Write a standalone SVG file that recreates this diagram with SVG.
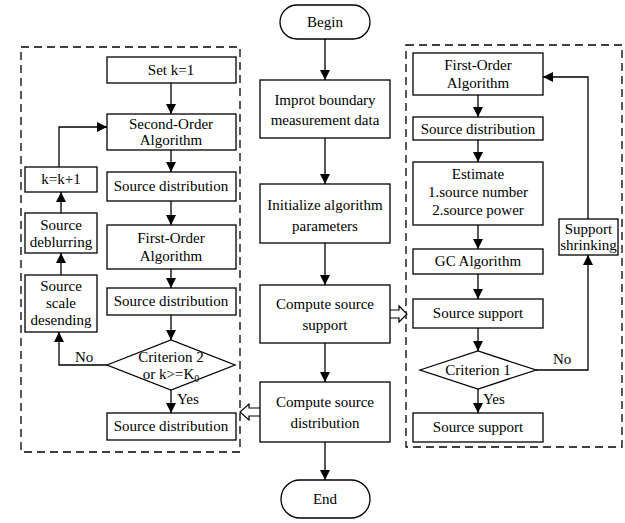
<svg xmlns="http://www.w3.org/2000/svg" width="625" height="523" viewBox="0 0 625 523">
<style>
.b{fill:#fff;stroke:#000;stroke-width:1.3}
.d{fill:none;stroke:#000;stroke-width:1.3;stroke-dasharray:8 5}
text{font-family:'Liberation Serif','Times New Roman','DejaVu Serif',serif;font-size:15px;fill:#000}
.t{text-anchor:middle}
.c{fill:none;stroke:#000;stroke-width:1.3}
.h{fill:#fff;stroke:#000;stroke-width:1.2}
</style>
<defs>
<marker id="a" viewBox="0 0 10 10" refX="10" refY="5" markerWidth="10" markerHeight="10" markerUnits="userSpaceOnUse" orient="auto">
<path d="M0,0 L10,5 L0,10 Z" fill="#000"/>
</marker>
</defs>
<g id="frames">
<rect class="d" x="21" y="47" width="219" height="405"/>
<rect class="d" x="406" y="45" width="216" height="402"/>
</g>
<g id="connectors">
<path class="c" d="M325,39 V80" marker-end="url(#a)"/>
<path class="c" d="M325,138 V184" marker-end="url(#a)"/>
<path class="c" d="M325,243 V285" marker-end="url(#a)"/>
<path class="c" d="M325,343 V382" marker-end="url(#a)"/>
<path class="c" d="M325,442 V480" marker-end="url(#a)"/>
<path class="c" d="M171,83 V114" marker-end="url(#a)"/>
<path class="c" d="M171,150 V172" marker-end="url(#a)"/>
<path class="c" d="M171,201 V225" marker-end="url(#a)"/>
<path class="c" d="M171,269 V288" marker-end="url(#a)"/>
<path class="c" d="M171,315 V340" marker-end="url(#a)"/>
<path class="c" d="M171,390 V413" marker-end="url(#a)"/>
<path class="c" d="M61,275 V253" marker-end="url(#a)"/>
<path class="c" d="M61,213 V192" marker-end="url(#a)"/>
<path class="c" d="M59,167 V127 H107" marker-end="url(#a)"/>
<path class="c" d="M107,365 H59 V332" marker-end="url(#a)"/>
<path class="c" d="M478,95 V117" marker-end="url(#a)"/>
<path class="c" d="M478,140 V162" marker-end="url(#a)"/>
<path class="c" d="M478,225 V249" marker-end="url(#a)"/>
<path class="c" d="M478,274 V299" marker-end="url(#a)"/>
<path class="c" d="M478,328 V351" marker-end="url(#a)"/>
<path class="c" d="M478,389 V413" marker-end="url(#a)"/>
<path class="c" d="M536,370 H588 V255" marker-end="url(#a)"/>
<path class="c" d="M588,219 V77 H543" marker-end="url(#a)"/>
<path class="h" d="M390,310 H399 V306 L407,314 L399,322 V318 H390"/>
<path class="h" d="M260,408 H249 V404 L240,412 L249,420 V416 H260"/>
<text x="75" y="362">No</text>
<text x="177" y="404">Yes</text>
<text x="553" y="364">No</text>
<text x="483" y="404">Yes</text>
</g>
<g id="begin"><rect class="b" x="280" y="5" width="90" height="34" rx="17"/><text class="t" x="325" y="27">Begin</text></g>
<g id="import"><rect class="b" x="260" y="80" width="130" height="58"/><text class="t" x="325" y="105">Improt boundary</text><text class="t" x="325" y="125">measurement data</text></g>
<g id="init"><rect class="b" x="260" y="184" width="130" height="59"/><text class="t" x="325" y="210">Initialize algorithm</text><text class="t" x="325" y="231">parameters</text></g>
<g id="support"><rect class="b" x="260" y="285" width="130" height="58"/><text class="t" x="325" y="309">Compute source</text><text class="t" x="325" y="330">support</text></g>
<g id="distribution"><rect class="b" x="260" y="382" width="130" height="60"/><text class="t" x="325" y="407">Compute source</text><text class="t" x="325" y="428">distribution</text></g>
<g id="end"><rect class="b" x="281" y="480" width="89" height="38" rx="19"/><text class="t" x="325" y="504">End</text></g>
<g id="setk"><rect class="b" x="107" y="57" width="129" height="26"/><text class="t" x="171" y="75">Set k=1</text></g>
<g id="second"><rect class="b" x="107" y="114" width="129" height="36"/><text class="t" x="171" y="129">Second-Order</text><text class="t" x="171" y="145">Algorithm</text></g>
<g id="sd1"><rect class="b" x="107" y="172" width="129" height="29"/><text class="t" x="171" y="191">Source distribution</text></g>
<g id="first1"><rect class="b" x="107" y="225" width="129" height="44"/><text class="t" x="171" y="243">First-Order</text><text class="t" x="171" y="261">Algorithm</text></g>
<g id="sd2"><rect class="b" x="107" y="288" width="129" height="27"/><text class="t" x="171" y="306">Source distribution</text></g>
<g id="crit2"><path class="b" d="M107,365 L171,340 L235,365 L171,390 Z"/><text class="t" x="171" y="362">Criterion 2</text><text class="t" x="171" y="379">or k&gt;=K<tspan font-size="10" dy="3">0</tspan></text></g>
<g id="sd3"><rect class="b" x="107" y="413" width="129" height="27"/><text class="t" x="171" y="431">Source distribution</text></g>
<g id="kinc"><rect class="b" x="25" y="167" width="72" height="25"/><text class="t" x="61" y="184">k=k+1</text></g>
<g id="deblur"><rect class="b" x="25" y="213" width="72" height="40"/><text class="t" x="61" y="230">Source</text><text class="t" x="61" y="247">deblurring</text></g>
<g id="scale"><rect class="b" x="25" y="275" width="72" height="57"/><text class="t" x="61" y="291">Source</text><text class="t" x="61" y="308">scale</text><text class="t" x="61" y="325">desending</text></g>
<g id="first2"><rect class="b" x="413" y="53" width="130" height="42"/><text class="t" x="478" y="70">First-Order</text><text class="t" x="478" y="88">Algorithm</text></g>
<g id="sd4"><rect class="b" x="413" y="117" width="130" height="23"/><text class="t" x="478" y="134">Source distribution</text></g>
<g id="estimate"><rect class="b" x="413" y="162" width="130" height="63"/><text class="t" x="478" y="179">Estimate</text><text class="t" x="478" y="197">1.source number</text><text class="t" x="478" y="215">2.source power</text></g>
<g id="gc"><rect class="b" x="413" y="249" width="130" height="25"/><text class="t" x="478" y="266">GC Algorithm</text></g>
<g id="ss1"><rect class="b" x="413" y="299" width="130" height="29"/><text class="t" x="478" y="318">Source support</text></g>
<g id="crit1"><path class="b" d="M420,370 L478,351 L536,370 L478,389 Z"/><text class="t" x="478" y="375">Criterion 1</text></g>
<g id="ss2"><rect class="b" x="413" y="413" width="130" height="29"/><text class="t" x="478" y="432">Source support</text></g>
<g id="shrink"><rect class="b" x="559" y="219" width="59" height="36"/><text class="t" x="588.5" y="234">Support</text><text class="t" x="588.5" y="250">shrinking</text></g>
</svg>
